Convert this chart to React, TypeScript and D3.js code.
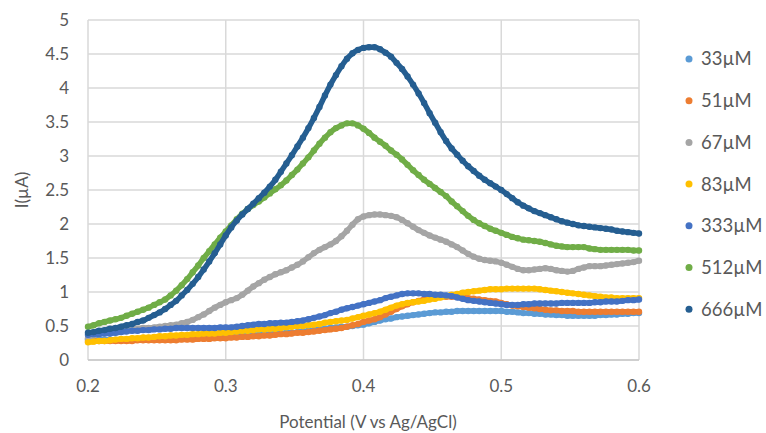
import React from "react";
import * as d3 from "d3";

// Scan potential (V vs Ag/AgCl), 4 mV steps from 0.2 V to 0.6 V
const potential: number[] = d3.range(101).map((i) => +(0.2 + i * 0.004).toFixed(3));

const seriesNames = ["33µM", "51µM", "67µM", "83µM", "333µM", "512µM", "666µM"];
const seriesColors = ["#5B9BD5", "#ED7D31", "#A5A5A5", "#FFC000", "#4472C4", "#70AD47", "#255E91"];

// Current (µA) for each concentration, one value per potential step
const c33 = [
  0.30, 0.30, 0.30, 0.30, 0.30, 0.30, 0.30, 0.30, 0.30, 0.30,
  0.31, 0.31, 0.31, 0.31, 0.31, 0.31, 0.32, 0.32, 0.32, 0.32,
  0.33, 0.33, 0.33, 0.34, 0.34, 0.34, 0.35, 0.35, 0.36, 0.36,
  0.37, 0.37, 0.38, 0.38, 0.39, 0.39, 0.40, 0.40, 0.41, 0.42,
  0.43, 0.44, 0.45, 0.46, 0.47, 0.48, 0.49, 0.49, 0.50, 0.51,
  0.52, 0.54, 0.56, 0.58, 0.60, 0.61, 0.63, 0.64, 0.65, 0.66,
  0.67, 0.68, 0.69, 0.70, 0.70, 0.71, 0.71, 0.72, 0.72, 0.72,
  0.72, 0.72, 0.72, 0.72, 0.72, 0.72, 0.71, 0.71, 0.70, 0.69,
  0.69, 0.68, 0.68, 0.67, 0.67, 0.66, 0.66, 0.65, 0.65, 0.65,
  0.65, 0.65, 0.65, 0.66, 0.66, 0.67, 0.67, 0.68, 0.68, 0.69,
  0.69,
];
const c51 = [
  0.28, 0.28, 0.28, 0.28, 0.28, 0.28, 0.28, 0.28, 0.28, 0.29,
  0.29, 0.29, 0.29, 0.29, 0.29, 0.29, 0.29, 0.30, 0.30, 0.30,
  0.31, 0.31, 0.31, 0.32, 0.32, 0.32, 0.33, 0.33, 0.34, 0.34,
  0.35, 0.35, 0.36, 0.36, 0.37, 0.38, 0.38, 0.39, 0.40, 0.40,
  0.41, 0.42, 0.43, 0.44, 0.45, 0.46, 0.47, 0.49, 0.51, 0.53,
  0.56, 0.58, 0.60, 0.63, 0.67, 0.71, 0.75, 0.79, 0.82, 0.85,
  0.87, 0.89, 0.91, 0.92, 0.93, 0.93, 0.93, 0.93, 0.92, 0.91,
  0.90, 0.89, 0.88, 0.87, 0.86, 0.84, 0.82, 0.80, 0.79, 0.78,
  0.77, 0.76, 0.75, 0.74, 0.73, 0.73, 0.72, 0.72, 0.72, 0.71,
  0.71, 0.71, 0.71, 0.71, 0.71, 0.71, 0.71, 0.71, 0.71, 0.71,
  0.71,
];
const c67 = [
  0.32, 0.36, 0.39, 0.41, 0.42, 0.43, 0.43, 0.44, 0.45, 0.46,
  0.47, 0.47, 0.48, 0.49, 0.50, 0.51, 0.52, 0.54, 0.56, 0.59,
  0.63, 0.67, 0.72, 0.77, 0.81, 0.85, 0.88, 0.91, 0.96, 1.02,
  1.08, 1.13, 1.18, 1.22, 1.26, 1.29, 1.32, 1.36, 1.40, 1.45,
  1.51, 1.57, 1.62, 1.66, 1.70, 1.75, 1.82, 1.90, 1.99, 2.07,
  2.11, 2.13, 2.14, 2.14, 2.13, 2.12, 2.10, 2.06, 2.01, 1.96,
  1.91, 1.87, 1.83, 1.80, 1.77, 1.74, 1.70, 1.66, 1.61, 1.56,
  1.52, 1.49, 1.47, 1.46, 1.45, 1.43, 1.40, 1.37, 1.34, 1.32,
  1.32, 1.33, 1.34, 1.35, 1.34, 1.32, 1.31, 1.30, 1.31, 1.34,
  1.36, 1.38, 1.38, 1.38, 1.39, 1.40, 1.41, 1.42, 1.43, 1.44,
  1.46,
];
const c83 = [
  0.26, 0.27, 0.28, 0.28, 0.29, 0.30, 0.31, 0.31, 0.32, 0.32,
  0.33, 0.33, 0.34, 0.35, 0.35, 0.36, 0.36, 0.37, 0.37, 0.38,
  0.38, 0.39, 0.39, 0.39, 0.40, 0.40, 0.41, 0.42, 0.43, 0.43,
  0.44, 0.45, 0.45, 0.46, 0.46, 0.47, 0.48, 0.49, 0.50, 0.50,
  0.51, 0.52, 0.53, 0.55, 0.56, 0.57, 0.58, 0.59, 0.61, 0.63,
  0.65, 0.67, 0.69, 0.71, 0.74, 0.77, 0.80, 0.82, 0.84, 0.85,
  0.86, 0.87, 0.89, 0.90, 0.92, 0.94, 0.96, 0.97, 0.99, 1.00,
  1.01, 1.02, 1.03, 1.04, 1.04, 1.04, 1.05, 1.05, 1.05, 1.05,
  1.05, 1.05, 1.04, 1.03, 1.02, 1.01, 1.00, 0.99, 0.98, 0.97,
  0.96, 0.95, 0.94, 0.93, 0.92, 0.92, 0.91, 0.91, 0.91, 0.91,
  0.91,
];
const c333 = [
  0.37, 0.38, 0.38, 0.39, 0.39, 0.40, 0.41, 0.42, 0.43, 0.43,
  0.44, 0.44, 0.45, 0.45, 0.46, 0.46, 0.47, 0.47, 0.47, 0.47,
  0.47, 0.47, 0.47, 0.47, 0.48, 0.48, 0.48, 0.49, 0.50, 0.51,
  0.52, 0.53, 0.53, 0.54, 0.54, 0.55, 0.55, 0.56, 0.57, 0.58,
  0.60, 0.62, 0.64, 0.66, 0.69, 0.71, 0.74, 0.76, 0.78, 0.80,
  0.82, 0.84, 0.86, 0.88, 0.91, 0.93, 0.95, 0.97, 0.98, 0.98,
  0.98, 0.97, 0.97, 0.96, 0.96, 0.95, 0.94, 0.92, 0.90, 0.88,
  0.87, 0.86, 0.85, 0.84, 0.83, 0.82, 0.81, 0.81, 0.81, 0.82,
  0.82, 0.83, 0.83, 0.83, 0.83, 0.83, 0.84, 0.84, 0.84, 0.84,
  0.84, 0.84, 0.85, 0.85, 0.86, 0.86, 0.86, 0.87, 0.88, 0.88,
  0.89,
];
const c512 = [
  0.49, 0.51, 0.54, 0.56, 0.58, 0.60, 0.62, 0.65, 0.68, 0.71,
  0.74, 0.77, 0.81, 0.85, 0.89, 0.95, 1.02, 1.10, 1.19, 1.29,
  1.39, 1.50, 1.60, 1.70, 1.80, 1.89, 1.98, 2.07, 2.15, 2.22,
  2.28, 2.33, 2.39, 2.45, 2.51, 2.57, 2.64, 2.72, 2.80, 2.89,
  2.98, 3.08, 3.18, 3.27, 3.35, 3.41, 3.45, 3.48, 3.48, 3.45,
  3.40, 3.34, 3.27, 3.21, 3.15, 3.08, 3.02, 2.95, 2.87, 2.79,
  2.72, 2.65, 2.59, 2.53, 2.47, 2.41, 2.33, 2.26, 2.19, 2.12,
  2.06, 2.01, 1.97, 1.93, 1.90, 1.87, 1.84, 1.81, 1.79, 1.77,
  1.76, 1.75, 1.74, 1.72, 1.70, 1.68, 1.67, 1.66, 1.66, 1.66,
  1.66, 1.64, 1.63, 1.62, 1.62, 1.62, 1.62, 1.62, 1.62, 1.61,
  1.61,
];
const c666 = [
  0.40, 0.41, 0.43, 0.44, 0.46, 0.47, 0.49, 0.51, 0.53, 0.56,
  0.58, 0.62, 0.66, 0.70, 0.75, 0.81, 0.87, 0.95, 1.03, 1.12,
  1.22, 1.33, 1.45, 1.57, 1.70, 1.83, 1.95, 2.05, 2.14, 2.22,
  2.30, 2.38, 2.46, 2.55, 2.65, 2.77, 2.89, 3.01, 3.14, 3.27,
  3.41, 3.56, 3.72, 3.89, 4.05, 4.19, 4.32, 4.43, 4.51, 4.56,
  4.59, 4.60, 4.60, 4.57, 4.52, 4.46, 4.37, 4.28, 4.17, 4.05,
  3.92, 3.78, 3.63, 3.49, 3.35, 3.22, 3.11, 3.02, 2.93, 2.85,
  2.78, 2.71, 2.65, 2.60, 2.55, 2.50, 2.44, 2.38, 2.32, 2.27,
  2.23, 2.19, 2.16, 2.13, 2.10, 2.07, 2.04, 2.02, 2.00, 1.98,
  1.97, 1.96, 1.95, 1.94, 1.93, 1.92, 1.90, 1.89, 1.88, 1.87,
  1.86,
];

const seriesValues = [c33, c51, c67, c83, c333, c512, c666];

const xTicks = [0.2, 0.3, 0.4, 0.5, 0.6];
const yTicks = [0, 0.5, 1, 1.5, 2, 2.5, 3, 3.5, 4, 4.5, 5];

const W = 766;
const H = 433;
const FONT = "Lato, 'Open Sans', sans-serif";
const TEXT = "#595959";
const GRID = "#D9D9D9";

export default function App() {
  const x = d3.scaleLinear().domain([0.2, 0.6]).range([88, 639]);
  const y = d3.scaleLinear().domain([0, 5]).range([360, 20]);
  const fmt = d3.format("");
  // dense markers blend into a thick trace; the trace is drawn under the dots
  const trace = d3
    .line<number>()
    .x((_, i) => x(potential[i]))
    .y((v) => y(v))
    .curve(d3.curveMonotoneX);

  return (
    <svg
      width={W}
      height={H}
      viewBox={`0 0 ${W} ${H}`}
      style={{ position: "absolute", left: 0, top: 0, background: "#fff" }}
      fontFamily={FONT}
    >
      {/* horizontal gridlines */}
      {yTicks.map((t) => (
        <line key={`gy${t}`} x1={x(0.2)} x2={x(0.6)} y1={y(t)} y2={y(t)} stroke={GRID} strokeWidth={1.5} />
      ))}
      {/* vertical gridlines */}
      {xTicks.map((t) => (
        <line key={`gx${t}`} x1={x(t)} x2={x(t)} y1={y(0)} y2={y(5)} stroke={GRID} strokeWidth={1.5} />
      ))}
      <line x1={x(0.2)} x2={x(0.6)} y1={y(0)} y2={y(0)} stroke="#C8C8C8" strokeWidth={1.5} />

      {/* y tick labels */}
      {yTicks.map((t) => (
        <text key={`ty${t}`} x={69} y={y(t)} dy="0.35em" textAnchor="end" fontSize={17} fill={TEXT}>
          {fmt(t)}
        </text>
      ))}
      {/* x tick labels */}
      {xTicks.map((t) => (
        <text key={`tx${t}`} x={x(t)} y={392} textAnchor="middle" fontSize={17} fill={TEXT}>
          {fmt(t)}
        </text>
      ))}

      {/* axis titles */}
      <text x={368} y={428} textAnchor="middle" fontSize={17} fill={TEXT}>
        Potential (V vs Ag/AgCl)
      </text>
      <text
        transform={`translate(28, ${y(2.5)}) rotate(-90)`}
        textAnchor="middle"
        fontSize={17}
        fill={TEXT}
      >
        I(µA)
      </text>

      {/* data points */}
      {seriesValues.map((vals, si) => (
        <g key={`s${si}`} fill={seriesColors[si]}>
          <path d={trace(vals) ?? ""} fill="none" stroke={seriesColors[si]} strokeWidth={5.4} strokeLinecap="round" />
          {vals.map((v, i) => (
            <circle key={i} cx={x(potential[i])} cy={y(v)} r={3.2} />
          ))}
        </g>
      ))}

      {/* legend */}
      {seriesNames.map((name, i) => (
        <g key={`l${i}`} transform={`translate(689, ${59 + i * 41.7})`}>
          <circle cx={0} cy={0} r={3.5} fill={seriesColors[i]} />
          <text x={12} y={0} dy="0.35em" fontSize={18.5} fill={TEXT}>
            {name}
          </text>
        </g>
      ))}
    </svg>
  );
}
